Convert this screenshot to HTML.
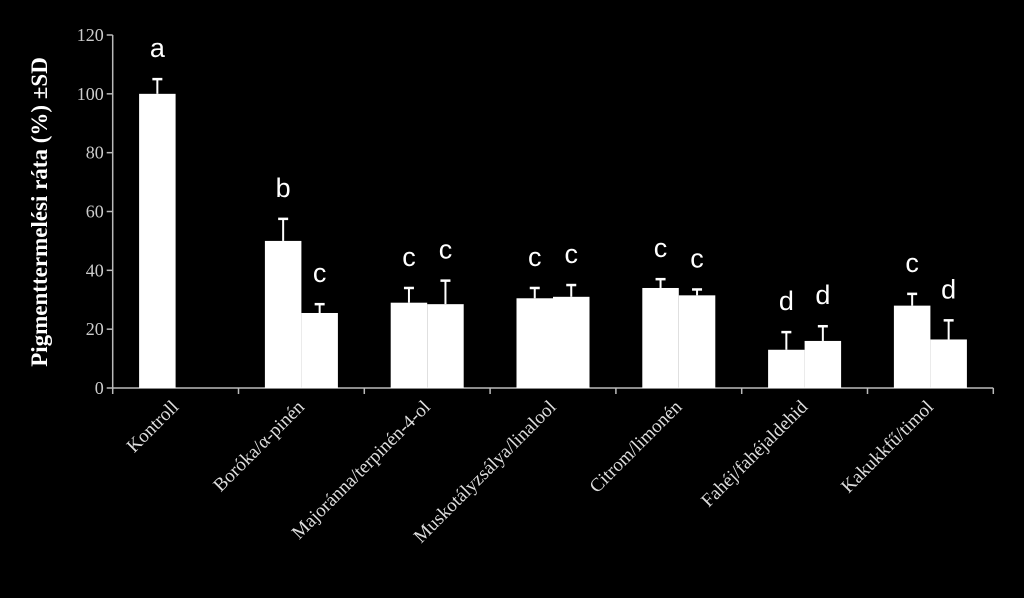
<!DOCTYPE html>
<html><head><meta charset="utf-8"><style>
html,body{margin:0;padding:0;background:#000;}
svg{display:block;}
</style></head><body>
<svg id="chart" width="1024" height="598" viewBox="0 0 1024 598" xmlns="http://www.w3.org/2000/svg">
<rect width="1024" height="598" fill="#000"/>
<g id="axes"></g><g id="bars"></g><g id="labels"></g>
<text transform="translate(47,212) rotate(-90)" text-anchor="middle" font-family="Liberation Serif, serif" font-weight="bold" font-size="23" fill="#fff">Pigmenttermelési ráta (%) ±SD</text>
</svg>
<script>
const categories = ["Kontroll","Boróka/α-pinén","Majoránna/terpinén-4-ol","Muskotályzsálya/linalool","Citrom/limonén","Fahéj/fahéjaldehid","Kakukkfű/timol"];
const seriesA = [100,50,29,30.5,34,13,28];
const errA = [5,7.5,5,3.5,3,6,4];
const lettersA = ["a","b","c","c","c","d","c"];
const seriesB = [null,25.5,28.5,31,31.5,16,16.5];
const errB = [null,3,8,4,2,5,6.5];
const lettersB = [null,"c","c","c","c","d","d"];
const yTicks = [0,20,40,60,80,100,120];

const NS="http://www.w3.org/2000/svg";
const x0=112.7, gw=125.8, y0=388, yMax=120, yTop=35;
const bw=36.5;
function yS(v){return y0-(v/yMax)*(y0-yTop);}
function gx(i){return x0+gw*i+gw/2;}
function mk(tag,attrs,parent){const e=document.createElementNS(NS,tag);for(const k in attrs)e.setAttribute(k,attrs[k]);parent.appendChild(e);return e;}
const axes=document.getElementById('axes'),bars=document.getElementById('bars'),labels=document.getElementById('labels');
const yl=mk('line',{x1:x0,y1:yTop,x2:x0,y2:y0,stroke:'#bbb','stroke-width':1.5},axes);


const xl=mk('line',{x1:x0,y1:y0,x2:x0+gw*categories.length,y2:y0,stroke:'#bbb','stroke-width':1.5},axes);


yTicks.forEach(t=>{
  mk('line',{x1:x0-6,y1:yS(t),x2:x0,y2:yS(t),stroke:'#bbb','stroke-width':1.5},axes);
  const tx=mk('text',{x:x0-9,y:yS(t)+6,'text-anchor':'end','font-family':'Liberation Serif, serif','font-size':18,fill:'#ccc'},axes);
  tx.textContent=t;
  
  
});
for(let i=0;i<=categories.length;i++){
  mk('line',{x1:x0+gw*i,y1:y0,x2:x0+gw*i,y2:y0+6,stroke:'#bbb','stroke-width':1.5},axes);
}
function bar(cx,v,e,letter,name){
  const y=yS(v);
  const r=mk('rect',{x:cx-bw/2,y:y,width:bw,height:y0-y,fill:'#fff'},bars);
  
  
  const ye=yS(v+e);
  const el=mk('line',{x1:cx,y1:y,x2:cx,y2:ye,stroke:'#fff','stroke-width':2},bars);
  
  
  mk('line',{x1:cx-5,y1:ye,x2:cx+5,y2:ye,stroke:'#fff','stroke-width':2.5},bars);
  const t=mk('text',{x:cx,y:ye-22,'text-anchor':'middle','font-family':'Liberation Sans, sans-serif','font-size':27,fill:'#fff'},labels);
  t.textContent=letter;
  
  
}
categories.forEach((c,i)=>{
  const cx=gx(i);
  bar(cx-bw/2,seriesA[i],errA[i],lettersA[i],'bar-essential-oil');
  if(seriesB[i]!==null) bar(cx+bw/2,seriesB[i],errB[i],lettersB[i],'bar-compound');
  const t=mk('text',{transform:`translate(${cx+4},${y0+20}) rotate(-45)`,'text-anchor':'end','font-family':'Liberation Serif, serif','font-size':19,fill:'#ddd'},labels);
  t.textContent=c;
  
  
});
</script>
</body></html>
